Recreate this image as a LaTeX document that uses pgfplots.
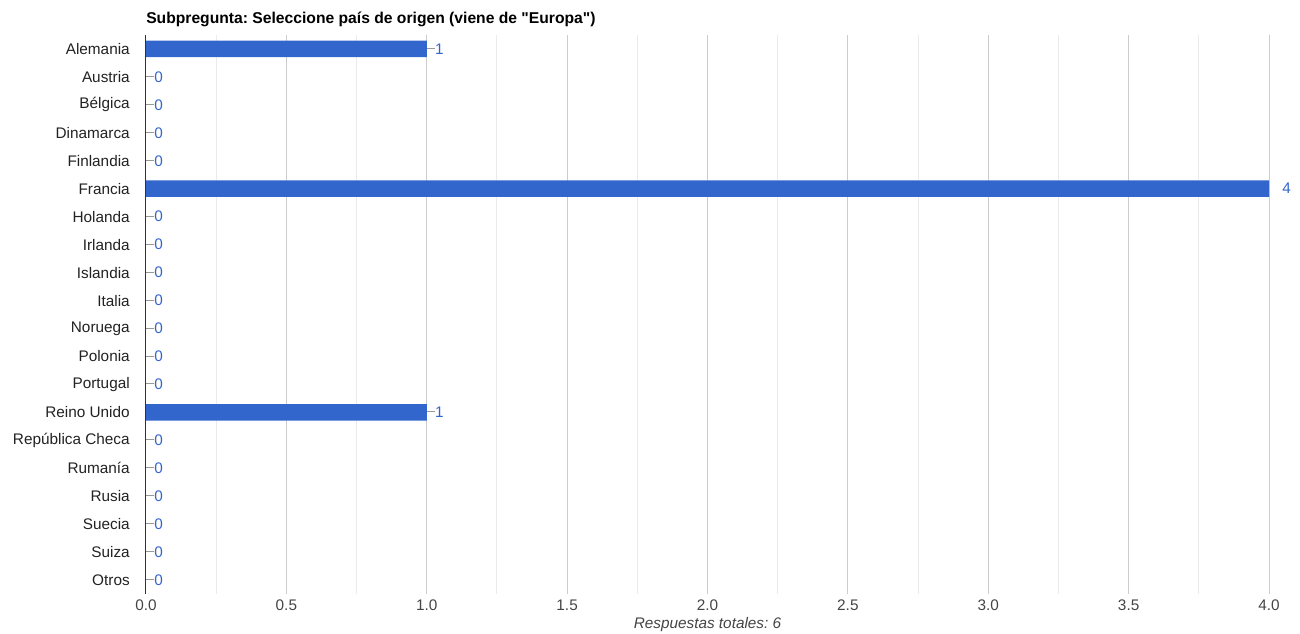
\documentclass[border=0pt]{standalone}
\usepackage{pgfplots}
\pgfplotsset{compat=1.18}
\usepackage{pgfplotstable}
\usepackage{fontspec}
\setmainfont{Liberation Sans}[Ligatures=TeXOff]
\frenchspacing

\definecolor{barblue}{HTML}{3366CC}
\definecolor{labelgray}{HTML}{222222}
\definecolor{tickgray}{HTML}{444444}
\definecolor{majorgrid}{HTML}{CCCCCC}
\definecolor{minorgrid}{HTML}{EBEBEB}
\definecolor{zeroline}{HTML}{333333}
\definecolor{dashgray}{HTML}{999999}

\newcommand{\chartfont}{\fontsize{11.5}{13.8}\selectfont}

% respuestas por pais (indice de fila, valor)
\pgfplotstableread{
idx value
0 1
1 0
2 0
3 0
4 0
5 4
6 0
7 0
8 0
9 0
10 0
11 0
12 0
13 1
14 0
15 0
16 0
17 0
18 0
19 0
}\paises

\begin{document}
\begin{tikzpicture}
\path[use as bounding box] (0,0) rectangle (975pt,475.5pt);
\begin{axis}[
    at={(109.5pt,30pt)}, anchor=south west,
    scale only axis,
    width=842.25pt, height=419.25pt,
    xbar, bar width=12.4pt,
    xmin=0, xmax=4,
    ymin=-0.5, ymax=19.5, y dir=reverse,
    clip=false,
    axis x line=bottom, axis y line=left,
    axis line style={draw=none},
    tick style={draw=none},
    major tick length=0pt, minor tick length=0pt,
    xtick={0,0.5,1,1.5,2,2.5,3,3.5,4},
    minor xtick={0.25,0.75,1.25,1.75,2.25,2.75,3.25,3.75},
    xmajorgrids, xminorgrids,
    major grid style={draw=majorgrid, line width=0.75pt},
    minor grid style={draw=minorgrid, line width=0.75pt},
    /pgf/number format/assume math mode=true,
    xticklabel={\pgfmathprintnumber[fixed,fixed zerofill,precision=1]{\tick}},
    xticklabel style={font=\chartfont, text=tickgray, inner sep=0pt, anchor=north, yshift=-4.5pt},
    ytick={0,...,19},
    yticklabels={Alemania,Austria,Bélgica,Dinamarca,Finlandia,Francia,Holanda,Irlanda,Islandia,Italia,Noruega,Polonia,Portugal,Reino Unido,República Checa,Rumanía,Rusia,Suecia,Suiza,Otros},
    yticklabel style={font=\chartfont, text=labelgray, inner sep=0pt, anchor=east, xshift=-12pt},
    title={Subpregunta: Seleccione país de origen (viene de "Europa")},
    every axis title/.style={at={(axis description cs:0,1)}, anchor=base west, yshift=8.25pt, inner sep=0pt, font=\bfseries\fontsize{11.75}{14}\selectfont, text=black},
    xlabel={Respuestas totales: 6},
    every axis x label/.style={at={(axis description cs:0.5,0)}, anchor=base, yshift=-25.5pt, inner sep=0pt, font=\itshape\chartfont, text=tickgray},
]
\addplot[fill=barblue, draw=none,
    visualization depends on={rawx \as \rawx},
    nodes near coords={\ifdim\rawx pt<3pt\textcolor{dashgray}{\rule[3.9pt]{6pt}{0.75pt}}\else\hspace*{9.75pt}\fi\pgfmathprintnumber{\rawx}},
    nodes near coords style={anchor=west, inner sep=0pt, font=\chartfont, text=barblue},
] table[x=value, y=idx] {\paises};
\draw[zeroline, line width=0.75pt] (axis cs:0,-0.5) -- (axis cs:0,19.5);
\end{axis}
\end{tikzpicture}
\end{document}
